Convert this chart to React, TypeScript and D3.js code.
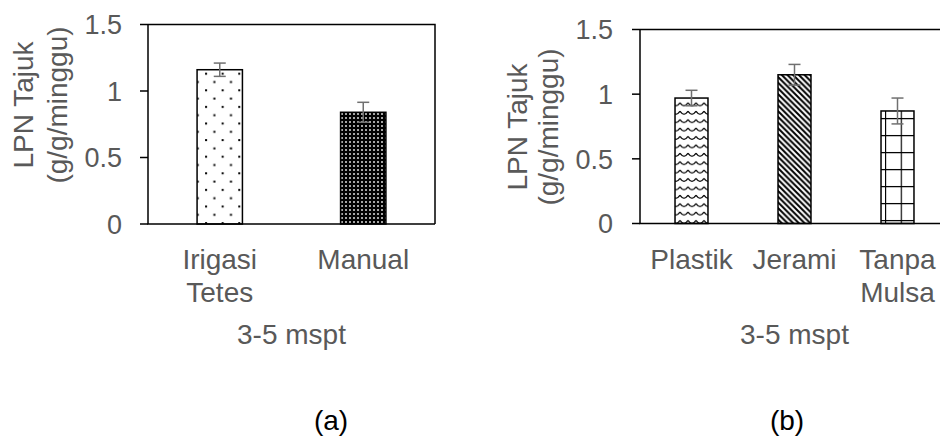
import React from "react";
import * as d3 from "d3";

const yTicks = [0, 0.5, 1, 1.5];
const xTitle = "3-5 mspt";
const yTitle = ["LPN Tajuk", "(g/g/minggu)"];

// panel (a)
const catsA = ["Irigasi Tetes", "Manual"];
const labelsA = [["Irigasi", "Tetes"], ["Manual"]];
const valuesA = [1.16, 0.84];
const errorsA = [0.05, 0.075];

// panel (b)
const catsB = ["Plastik", "Jerami", "Tanpa Mulsa"];
const labelsB = [["Plastik"], ["Jerami"], ["Tanpa", "Mulsa"]];
const valuesB = [0.97, 1.15, 0.87];
const errorsB = [0.06, 0.08, 0.1];

const W = 940;
const H = 437;
const textGray = "#595959";
const errGray = "#707070";
const font = "'Liberation Sans', Arial, sans-serif";

const xA = d3.scaleBand().domain(catsA).range([148, 435]).paddingInner(0.684).paddingOuter(0.342);
const yA = d3.scaleLinear().domain([0, 1.5]).range([224, 24.5]);
const xB = d3.scaleBand().domain(catsB).range([640, 949]).paddingInner(0.68).paddingOuter(0.34);
const yB = d3.scaleLinear().domain([0, 1.5]).range([223.5, 29.5]);

const Panel = ({ x, y, cats, labels, values, errors, fills, tickEnd, titleX, titleY, tag, tagX, rightBorder }) => {
    const [l, r] = x.range();
    const [b, t] = y.range();
    const bw = x.bandwidth();
    const cx = (l + r) / 2;
    return (
        <g>
            {cats.map((c, i) => (
                <rect key={c} x={x(c)} y={y(values[i])} width={bw} height={b - y(values[i])}
                    fill={`url(#${fills[i]})`} stroke="#000" strokeWidth={1.5} />
            ))}
            {cats.map((c, i) => {
                const m = x(c) + bw / 2;
                const hi = y(values[i] + errors[i]);
                const lo = y(values[i] - errors[i]);
                return (
                    <g key={c} stroke={errGray} strokeWidth={1.5}>
                        <line x1={m} x2={m} y1={hi} y2={lo} />
                        <line x1={m - 6} x2={m + 6} y1={hi} y2={hi} />
                        <line x1={m - 6} x2={m + 6} y1={lo} y2={lo} />
                    </g>
                );
            })}
            <path d={`M${l},${t}H${r}${rightBorder ? `V${b}` : ""}`} fill="none" stroke="#000" strokeWidth={1.5} />
            <path d={`M${l},${t}V${b}H${r}`} fill="none" stroke="#000" strokeWidth={1.5} />
            {yTicks.map(v => (
                <g key={v}>
                    <line x1={l - 8} x2={l} y1={y(v)} y2={y(v)} stroke="#000" strokeWidth={1.5} />
                    <text x={tickEnd} y={y(v)} dy="0.36em" textAnchor="end" fontSize={27} fill={textGray}>{v}</text>
                </g>
            ))}
            {cats.map((c, i) => labels[i].map((s, k) => (
                <text key={c + k} x={x(c) + bw / 2} y={269 + k * 33} textAnchor="middle" fontSize={28} fill={textGray}>{s}</text>
            )))}
            <text x={cx} y={344} textAnchor="middle" fontSize={28} fill={textGray}>{xTitle}</text>
            {yTitle.map((s, k) => (
                <text key={s} transform={`translate(${titleX[k]},${titleY}) rotate(-90)`} textAnchor="middle"
                    fontSize={28} fill={textGray}>{s}</text>
            ))}
            <text x={tagX} y={430} textAnchor="middle" fontSize={28} fill="#000">{tag}</text>
        </g>
    );
};

export default function App() {
    const dotX = xA(catsA[0]) + 5;
    const dotY = yA(valuesA[0]);
    const gridX = xB(catsB[2]) + 4;
    const gridY = yB(valuesB[2]) + 7;
    return (
        <svg width={W} height={H} style={{ position: "absolute", left: 0, top: 0, background: "#fff" }} fontFamily={font}>
            <defs>
                <pattern id="dots" patternUnits="userSpaceOnUse" x={dotX} y={dotY} width={16.6} height={16.6}>
                    <rect width={16.6} height={16.6} fill="#fff" />
                    <rect x={3} y={3} width={2} height={2} fill="#000" />
                    <rect x={11.3} y={11.3} width={2} height={2} fill="#000" />
                </pattern>
                <pattern id="dense" patternUnits="userSpaceOnUse" width={4} height={4}>
                    <rect width={4} height={4} fill="#000" />
                    <rect x={1.2} y={1.2} width={1.6} height={1.6} fill="#fff" />
                </pattern>
                <pattern id="wave" patternUnits="userSpaceOnUse" width={8} height={8.4}>
                    <rect width={8} height={8.4} fill="#fff" />
                    <path d="M0,2 Q4,8 8,2" fill="none" stroke="#000" strokeWidth={1.2} />
                </pattern>
                <pattern id="diag" patternUnits="userSpaceOnUse" width={5.7} height={5.7}>
                    <rect width={5.7} height={5.7} fill="#fff" />
                    <path d="M0,0L5.7,5.7M-1.5,4.2L1.5,7.2M4.2,-1.5L7.2,1.5" stroke="#000" strokeWidth={2} />
                </pattern>
                <pattern id="grid" patternUnits="userSpaceOnUse" x={gridX} y={gridY} width={15.7} height={17}>
                    <rect width={15.7} height={17} fill="#fff" />
                    <path d="M0.5,0V17M0,0.5H15.7" stroke="#000" strokeWidth={1.3} />
                </pattern>
            </defs>
            <Panel x={xA} y={yA} cats={catsA} labels={labelsA} values={valuesA} errors={errorsA}
                fills={["dots", "dense"]} tickEnd={122} titleX={[33, 67]} titleY={105} tag="(a)" tagX={331} rightBorder />
            <Panel x={xB} y={yB} cats={catsB} labels={labelsB} values={valuesB} errors={errorsB}
                fills={["wave", "diag", "grid"]} tickEnd={613} titleX={[527, 558]} titleY={127} tag="(b)" tagX={787} rightBorder={false} />
        </svg>
    );
}
